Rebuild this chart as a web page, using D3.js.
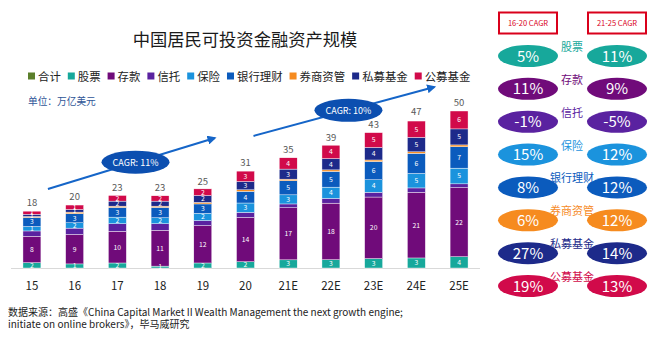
<!DOCTYPE html>
<html><head><meta charset="utf-8">
<script src="https://cdn.jsdelivr.net/npm/d3@7"></script>
<style>
html,body{margin:0;padding:0;background:#fff;}
svg{display:block;font-family:"Noto Sans CJK SC","Noto Sans",sans-serif;}
</style></head>
<body>
<svg id="c" width="670" height="347"></svg>
<script>
const years = ["15","16","17","18","19","20","21E","22E","23E","24E","25E"];
const totals = [18,20,23,23,25,31,35,39,43,47,50];
const seriesNames = ["股票","存款","信托","保险","银行理财","券商资管","私募基金","公募基金"];
const seriesColors = ["#17a89b","#700b7a","#5a22a0","#1b93dd","#0b5bbd","#f68b1f","#1d2a8a","#d10a4a"];
const legendNames = ["合计","股票","存款","信托","保险","银行理财","券商资管","私募基金","公募基金"];
const legendColors = ["#5b7f2b","#17a89b","#700b7a","#5a22a0","#1b93dd","#0b5bbd","#f68b1f","#1d2a8a","#d10a4a"];
const stock     = [1.7,1.3,1.6,0.6,1.6,2.0,2.6,2.65,3.0,3.2,3.6];
const deposit   = [8.4,9.4,10.1,11.4,11.9,14.1,16.6,18.0,19.6,20.9,22.0];
const trust     = [1.7,2.0,2.4,2.1,1.6,1.6,1.2,1.5,1.5,1.4,1.2];
const insurance = [1.4,1.7,2.1,1.9,2.3,3.0,2.9,3.6,4.0,4.6,5.0];
const bank      = [2.9,2.9,3.1,3.3,3.0,3.7,4.5,5.0,5.8,6.4,6.8];
const broker    = [0.3,0.5,0.4,0.4,0.5,0.5,0.5,0.5,0.5,0.5,0.6];
const privateF  = [0.7,0.85,1.6,1.6,2.2,2.65,3.2,3.6,4.0,4.6,5.1];
const publicF   = [1.0,1.4,1.8,1.7,2.1,3.3,3.6,4.25,4.7,5.2,5.7];
const unlabeled = ["信托","券商资管"];
const cagrLeft  = [5,11,-1,15,8,6,27,19];
const cagrRight = [11,9,-5,12,12,12,14,13];
const cagrHeaders = ["16-20 CAGR","21-25 CAGR"];
const trendLabels = ["CAGR: 11%","CAGR: 10%"];
const title = "中国居民可投资金融资产规模";
const unit = "单位：万亿美元";
const source = ["数据来源：高盛《China Capital Market II Wealth Management the next growth engine;","initiate on online brokers》，毕马威研究"];

const seriesData = [stock,deposit,trust,insurance,bank,broker,privateF,publicF];
const rows = years.map((y,i)=>{const r={year:y}; seriesNames.forEach((s,k)=>r[s]=seriesData[k][i]); return r;});
const stacked = d3.stack().keys(seriesNames)(rows);

const svg = d3.select("#c");
const x = d3.scaleBand().domain(years).range([11,480]).paddingInner(0.58).paddingOuter(0.28);
const y = d3.scaleLinear().domain([0,50]).range([268,111]);
const cx = d => x(d)+x.bandwidth()/2;

// title
svg.append("text").attr("x",245).attr("y",46).attr("text-anchor","middle")
  .attr("font-size",17.3).attr("fill","#1a1a1a").text(title);

// legend
let lx = 28;
legendNames.forEach((n,i)=>{
  svg.append("rect").attr("x",lx).attr("y",72.5).attr("width",7).attr("height",7).attr("fill",legendColors[i]);
  const t = svg.append("text").attr("x",lx+10).attr("y",80.5).attr("font-size",11.4).attr("fill","#222").text(n);
  lx += 10 + t.node().getComputedTextLength() + 7;
});

svg.append("text").attr("x",28).attr("y",105).attr("font-size",9.7).attr("fill","#2f5597").text(unit);

// axis baseline
svg.append("line").attr("x1",11).attr("x2",480).attr("y1",y(0)+0.5).attr("y2",y(0)+0.5).attr("stroke","#d9d9d9").attr("stroke-width",1);

// bars
const g = svg.append("g");
stacked.forEach((layer,k)=>{
  const lg = g.append("g").attr("fill",seriesColors[k]);
  lg.selectAll("rect").data(layer).join("rect")
    .attr("x",d=>x(d.data.year)).attr("width",x.bandwidth())
    .attr("y",d=>y(d[1])).attr("height",d=>y(d[0])-y(d[1]))
    .attr("stroke","#fff").attr("stroke-width",0.4);
});
stacked.forEach((layer,k)=>{
  if(!unlabeled.includes(seriesNames[k])){
    g.append("g").selectAll("text").data(layer).join("text")
      .attr("x",d=>cx(d.data.year))
      .attr("y",d=>(y(d[0])+y(d[1]))/2+2.4)
      .attr("text-anchor","middle").attr("font-size",6.8).attr("fill","#fff")
      .text(d=>Math.round(d[1]-d[0]));
  }
});

// totals
svg.append("g").selectAll("text").data(years).join("text")
  .attr("x",d=>cx(d)).attr("y",(d,i)=>y(totals[i])-5)
  .attr("text-anchor","middle").attr("font-size",9.5).attr("fill","#595959")
  .text((d,i)=>totals[i]);

// x axis labels
svg.append("g").selectAll("text").data(years).join("text")
  .attr("x",d=>cx(d)).attr("y",290)
  .attr("text-anchor","middle").attr("font-size",11.5).attr("fill","#222").text(d=>d);

// trend arrows
const defs = svg.append("defs");
defs.append("marker").attr("id","ah").attr("viewBox","0 0 10 10").attr("refX",8).attr("refY",5)
  .attr("markerWidth",4.5).attr("markerHeight",4.5).attr("orient","auto")
  .append("path").attr("d","M0,0L10,5L0,10z").attr("fill","#1565c8");
const arrows = [
  {x1:cx("15")+16, y1:y(18)-22.5, x2:cx("19")+12, y2:y(25)-51.5, label:trendLabels[0]},
  {x1:cx("20")+8,  y1:y(31)-34.7, x2:cx("24E")+18, y2:y(47)-33.4, label:trendLabels[1]}
];
arrows.forEach(a=>{
  svg.append("line").attr("x1",a.x1).attr("y1",a.y1).attr("x2",a.x2).attr("y2",a.y2)
    .attr("stroke","#1565c8").attr("stroke-width",2).attr("marker-end","url(#ah)");
  const t = 0.525;
  const ex = a.x1+(a.x2-a.x1)*t, ey = a.y1+(a.y2-a.y1)*t;
  svg.append("ellipse").attr("cx",ex).attr("cy",ey).attr("rx",34).attr("ry",11.5).attr("fill","#0c4fb0");
  svg.append("text").attr("x",ex).attr("y",ey+3.3).attr("text-anchor","middle").attr("font-size",9).attr("fill","#fff").text(a.label);
});

// right panel
const colX = [528,617];
cagrHeaders.forEach((h,i)=>{
  svg.append("rect").attr("x",colX[i]-29).attr("y",12.5).attr("width",58).attr("height",21)
    .attr("fill","#fff").attr("stroke","#d9001b").attr("stroke-width",2);
  svg.append("text").attr("x",colX[i]).attr("y",26).attr("text-anchor","middle").attr("font-size",7.5).attr("fill","#d9001b").text(h);
});
const rowY = d3.scalePoint().domain(seriesNames).range([56,286]);
seriesNames.forEach((n,i)=>{
  const cy = rowY(n);
  [cagrLeft[i],cagrRight[i]].forEach((v,j)=>{
    svg.append("ellipse").attr("cx",colX[j]).attr("cy",cy).attr("rx",30).attr("ry",11).attr("fill",seriesColors[i]);
    svg.append("text").attr("x",colX[j]).attr("y",cy+5.5).attr("text-anchor","middle").attr("font-size",15).attr("fill","#fff").text(v+"%");
  });
  svg.append("text").attr("x",572).attr("y",cy-5).attr("text-anchor","middle").attr("font-size",11).attr("fill",seriesColors[i]).text(n);
});

// source
source.forEach((s,i)=>{
  svg.append("text").attr("x",8).attr("y",316+i*12).attr("font-size",10).attr("fill","#222").text(s);
});
</script>
</body></html>
